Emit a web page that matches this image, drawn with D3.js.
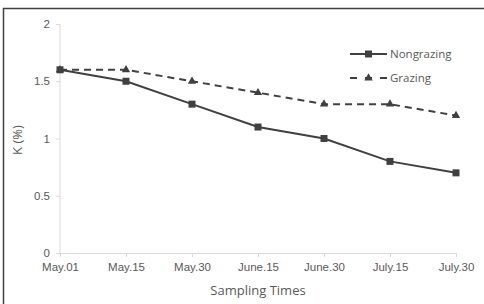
<!DOCTYPE html>
<html><head><meta charset="utf-8">
<script src="https://cdn.jsdelivr.net/npm/d3@7"></script>
<style>body{margin:0;background:#fff;} svg{display:block;font-family:"Open Sans","Noto Sans",sans-serif;}</style>
</head><body>
<svg id="c" width="484" height="304"></svg>
<script>
const categories = ["May.01","May.15","May.30","June.15","June.30","July.15","July.30"];
const nongrazing = [1.6,1.5,1.3,1.1,1.0,0.8,0.7];
const grazing = [1.6,1.6,1.5,1.4,1.3,1.3,1.2];
const yTicks = [0,0.5,1,1.5,2];
const seriesNames = ["Nongrazing","Grazing"];

const svg = d3.select("#c");
const col = "#404040", txt = "#595959", axc = "#d9d9d9";
svg.append("rect").attr("x",3.5).attr("y",8.5).attr("width",490).attr("height",310)
  .attr("fill","none").attr("stroke","#404040").attr("stroke-width",1.5);

const x = d3.scalePoint().domain(categories).range([60,456]);
const y = d3.scaleLinear().domain([0,2]).range([253,24]);

const yAx = svg.append("g").attr("transform","translate(60,0)")
  .call(d3.axisLeft(y).tickValues(yTicks).tickFormat(d3.format("")).tickSize(4).tickPadding(6));
const xAx = svg.append("g").attr("transform","translate(0,253)")
  .call(d3.axisBottom(x).tickSize(4).tickPadding(6));
[yAx,xAx].forEach(g=>{
  g.selectAll("path,line").attr("stroke",axc).attr("stroke-width",1);
  g.selectAll("text").attr("fill",txt).style("font-size","11.5px");
});
yAx.select(".domain").attr("d","M0,253V24");

svg.append("text").attr("transform","translate(22,140) rotate(-90)").attr("text-anchor","middle")
  .attr("fill",txt).style("font-size","13px").text("K (%)");
svg.append("text").attr("x",258).attr("y",295).attr("text-anchor","middle")
  .attr("fill",txt).style("font-size","13px").text("Sampling Times");

const line = d3.line().x((d,i)=>x(categories[i])).y(d=>y(d));
svg.append("path").datum(grazing).attr("d",line).attr("fill","none").attr("stroke",col)
  .attr("stroke-width",2).attr("stroke-dasharray","7,5");
svg.append("path").datum(nongrazing).attr("d",line).attr("fill","none").attr("stroke",col)
  .attr("stroke-width",2);
const tri = d3.symbol().type(d3.symbolTriangle).size(30);
svg.selectAll(".tri").data(grazing).enter().append("path")
  .attr("transform",(d,i)=>`translate(${x(categories[i])},${y(d)})`).attr("d",tri).attr("fill",col);
svg.selectAll(".sq").data(nongrazing).enter().append("rect")
  .attr("x",(d,i)=>x(categories[i])-3.5).attr("y",d=>y(d)-3.5).attr("width",7).attr("height",7).attr("fill",col);

// legend
const lg = svg.append("g");
lg.append("line").attr("x1",350).attr("x2",387).attr("y1",54).attr("y2",54).attr("stroke",col).attr("stroke-width",2);
lg.append("rect").attr("x",365).attr("y",50.5).attr("width",7).attr("height",7).attr("fill",col);
lg.append("line").attr("x1",350).attr("x2",387).attr("y1",78).attr("y2",78).attr("stroke",col).attr("stroke-width",2).attr("stroke-dasharray","7,8");
lg.append("path").attr("transform","translate(368.5,78)").attr("d",tri).attr("fill",col);
lg.selectAll("text").data(seriesNames).enter().append("text").attr("x",390).attr("y",(d,i)=>58+i*24)
  .attr("fill",txt).style("font-size","11.5px").text(d=>d);
</script>
</body></html>
